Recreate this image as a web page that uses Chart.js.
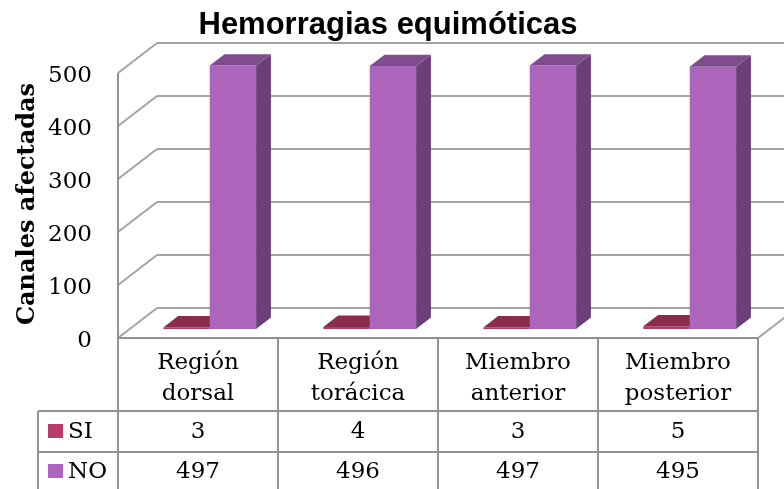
<!DOCTYPE html>
<html>
<head>
<meta charset="utf-8">
<script src="https://cdn.jsdelivr.net/npm/chart.js@4"></script>
<style>
  html, body { margin: 0; padding: 0; background: #fff; }
  #wrap { width: 784px; height: 489px; }
</style>
</head>
<body>
<div id="wrap"><canvas id="chart" width="784" height="489"></canvas></div>
<script>
  const titleText = 'Hemorragias equimóticas';
  const yTitle = 'Canales afectadas';
  const categories = [['Región', 'dorsal'], ['Región', 'torácica'], ['Miembro', 'anterior'], ['Miembro', 'posterior']];
  const seriesNames = ['SI', 'NO'];
  const siValues = [3, 4, 3, 5];
  const noValues = [497, 496, 497, 495];
  const yMax = 500;
  const yStep = 100;

  const faces = {
    SI: { front: '#b23a66', side: '#6e2340', top: '#8a2d4b', key: '#b73c69' },
    NO: { front: '#ac64bc', side: '#6d3f7a', top: '#7f4d8e', key: '#ac64bc' },
  };

  // oblique depth of the box (px for full depth)
  const wallDx = 39;
  const wallDy = -30;
  const barFront = 0.3;
  const barDepth = 0.38;

  const serif = '"DejaVu Serif", serif';
  const gridColor = '#a3a3a3';
  const tableColor = '#929292';

  function line(ctx, x1, y1, x2, y2) {
    ctx.beginPath();
    ctx.moveTo(x1, y1);
    ctx.lineTo(x2, y2);
    ctx.stroke();
  }

  function poly(ctx, pts, color) {
    ctx.beginPath();
    ctx.moveTo(pts[0][0], pts[0][1]);
    for (let i = 1; i < pts.length; i++) ctx.lineTo(pts[i][0], pts[i][1]);
    ctx.closePath();
    ctx.fillStyle = color;
    ctx.fill();
  }

  const box3d = {
    id: 'box3d',
    beforeDatasetsDraw(chart) {
      const { ctx, chartArea: a, scales: { y } } = chart;
      ctx.save();
      ctx.strokeStyle = gridColor;
      ctx.lineWidth = 2;
      y.ticks.forEach((t) => {
        const yf = y.getPixelForValue(t.value);
        line(ctx, a.left, yf, a.left + wallDx, yf + wallDy);
        line(ctx, a.left + wallDx, yf + wallDy, a.right + wallDx, yf + wallDy);
      });
      // front edge of side wall and right edge of floor
      line(ctx, a.left, a.top, a.left, a.bottom);
      line(ctx, a.right, a.bottom, a.right + wallDx, a.bottom + wallDy);

      // titles and y ticks
      ctx.fillStyle = '#000';
      ctx.textAlign = 'center';
      ctx.textBaseline = 'middle';
      ctx.font = 'bold 31px "Liberation Sans", Arial, sans-serif';
      ctx.fillText(titleText, 388, 25);

      ctx.font = '23px ' + serif;
      ctx.textAlign = 'right';
      y.ticks.forEach((t) => {
        ctx.fillText(String(t.value), 92, y.getPixelForValue(t.value) + 3);
      });

      ctx.save();
      ctx.translate(28, 204);
      ctx.rotate(-Math.PI / 2);
      ctx.textAlign = 'center';
      ctx.font = 'bold 24px ' + serif;
      ctx.fillText(yTitle, 0, 0);
      ctx.restore();
      ctx.restore();
    },
    beforeDatasetDraw() {
      return false;
    },
    afterDatasetsDraw(chart) {
      const { ctx } = chart;
      const fx = barFront * wallDx;
      const fy = barFront * wallDy;
      const bx = (barFront + barDepth) * wallDx;
      const by = (barFront + barDepth) * wallDy;
      ctx.save();
      categories.forEach((_, i) => {
        seriesNames.forEach((name, ds) => {
          const el = chart.getDatasetMeta(ds).data[i];
          const p = el.getProps(['x', 'y', 'base', 'width'], true);
          const l = p.x - p.width / 2;
          const r = p.x + p.width / 2;
          const c = faces[name];
          poly(ctx, [[l + fx, p.y + fy], [r + fx, p.y + fy], [r + fx, p.base + fy], [l + fx, p.base + fy]], c.front);
          poly(ctx, [[r + fx, p.y + fy], [r + bx, p.y + by], [r + bx, p.base + by], [r + fx, p.base + fy]], c.side);
          poly(ctx, [[l + fx, p.y + fy], [l + bx, p.y + by], [r + bx, p.y + by], [r + fx, p.y + fy]], c.top);
        });
      });
      ctx.restore();
    },
    afterDraw(chart) {
      const { ctx, chartArea: a, scales: { x } } = chart;
      const colW = (a.right - a.left) / categories.length;
      const rowHead = a.bottom + 73;
      const rowSi = rowHead + 41;
      const bottom = chart.height + 5;
      const keyLeft = 38;
      ctx.save();
      ctx.strokeStyle = tableColor;
      ctx.lineWidth = 2;
      line(ctx, a.left, a.bottom, a.right, a.bottom);
      line(ctx, keyLeft, rowHead, a.right, rowHead);
      line(ctx, keyLeft, rowSi, a.right, rowSi);
      line(ctx, keyLeft, rowHead, keyLeft, bottom);
      for (let i = 0; i <= categories.length; i++) {
        const xx = a.left + i * colW;
        line(ctx, xx, i === 0 ? a.top : a.bottom, xx, bottom);
      }

      ctx.fillStyle = '#000';
      ctx.font = '23px ' + serif;
      ctx.textAlign = 'center';
      ctx.textBaseline = 'middle';
      categories.forEach((lines, i) => {
        const cx = x.getPixelForValue(i);
        ctx.fillText(lines[0], cx, a.bottom + 25);
        ctx.fillText(lines[1], cx, a.bottom + 56);
        ctx.fillText(String(siValues[i]), cx, rowHead + 21);
        ctx.fillText(String(noValues[i]), cx, rowSi + 20);
      });

      ctx.textAlign = 'left';
      [rowHead + 21, rowSi + 20].forEach((cy, k) => {
        const name = seriesNames[k];
        ctx.fillStyle = faces[name].key;
        ctx.fillRect(48, cy - 8, 15, 14);
        ctx.fillStyle = '#000';
        ctx.fillText(name, 68, cy);
      });
      ctx.restore();
    },
  };

  new Chart(document.getElementById('chart'), {
    type: 'bar',
    data: {
      labels: categories.map((c) => c.join(' ')),
      datasets: [
        { label: seriesNames[0], data: siValues, backgroundColor: faces.SI.front },
        { label: seriesNames[1], data: noValues, backgroundColor: faces.NO.front },
      ],
    },
    options: {
      responsive: false,
      devicePixelRatio: 1,
      animation: false,
      layout: { padding: { left: 118, right: 26, top: 73, bottom: 151 } },
      datasets: { bar: { categoryPercentage: 0.58, barPercentage: 1 } },
      scales: {
        x: { display: false },
        y: { display: false, min: 0, max: yMax, ticks: { stepSize: yStep } },
      },
      plugins: {
        legend: { display: false },
        title: { display: false },
        tooltip: { enabled: false },
      },
    },
    plugins: [box3d],
  });
</script>
</body>
</html>
